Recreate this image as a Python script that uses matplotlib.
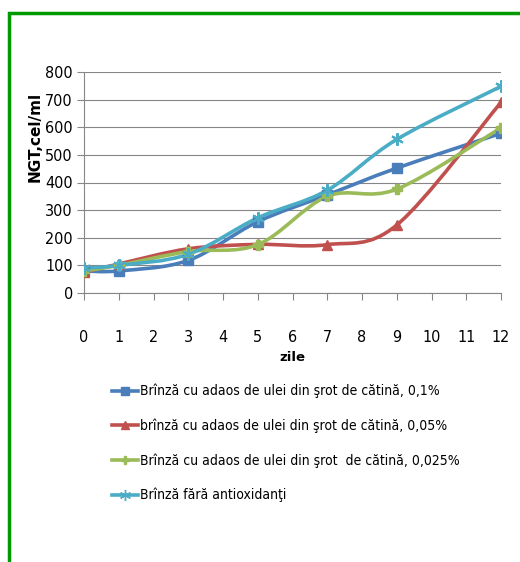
import matplotlib
matplotlib.use("Agg")
import matplotlib.pyplot as plt
from matplotlib.path import Path
from matplotlib.patches import PathPatch, Rectangle
from matplotlib.lines import Line2D
from matplotlib.font_manager import FontProperties
import numpy as np

# ---- data ----
days = [0, 1, 3, 5, 7, 9, 12]
blue_vals = [80, 80, 118, 258, 355, 452, 578]
red_vals = [75, 105, 160, 176, 175, 246, 690]
green_vals = [80, 100, 150, 175, 350, 376, 598]
cyan_vals = [90, 100, 140, 272, 372, 556, 748]
series_labels = [
    "Brînză cu adaos de ulei din şrot de cătină, 0,1%",
    "brînză cu adaos de ulei din şrot de cătină, 0,05%",
    "Brînză cu adaos de ulei din şrot  de cătină, 0,025%",
    "Brînză fără antioxidanţi",
]
x_ticks = list(range(0, 13))
y_ticks = list(range(0, 801, 100))

colors = ["#4a7ebb", "#c0504d", "#9bbb59", "#4bacc6"]
markers = ["s", "^", "P", (6, 2, 0)]
msizes = [7, 7, 7, 9]

tick_fp = FontProperties(family="DejaVu Sans", stretch="condensed", size=11.5)
leg_fp = FontProperties(family="DejaVu Sans", stretch="condensed", size=10)

fig = plt.figure(figsize=(5.2, 5.62), dpi=100)
W, H = 520, 562
ax = fig.add_axes([84 / W, 1 - 293 / H, (501 - 84) / W, (293 - 72) / H])


def smooth_path(xs, ys):
    pts = np.column_stack([xs, ys]).astype(float)
    n = len(pts)
    verts = [pts[0]]
    codes = [Path.MOVETO]
    for i in range(n - 1):
        p0 = pts[i - 1] if i > 0 else pts[i]
        p1 = pts[i]
        p2 = pts[i + 1]
        p3 = pts[i + 2] if i + 2 < n else pts[i + 1]
        c1 = p1 + (p2 - p0) / 6.0
        c2 = p2 - (p3 - p1) / 6.0
        verts += [c1, c2, p2]
        codes += [Path.CURVE4] * 3
    return Path(verts, codes)


all_vals = [blue_vals, red_vals, green_vals, cyan_vals]
handles = []
for vals, c, m, ms in zip(all_vals, colors, markers, msizes):
    patch = PathPatch(smooth_path(days, vals), facecolor="none", edgecolor=c,
                      lw=2.6, zorder=3, capstyle="round", joinstyle="round")
    ax.add_patch(patch)
    ax.plot(days, vals, linestyle="none", marker=m, color=c, markersize=ms,
            markeredgewidth=1.5 if m == (6, 2, 0) else 1.0, zorder=4)
    handles.append(Line2D([], [], color=c, lw=2.6, marker=m, markersize=ms - 1))

ax.set_xlim(0, 12)
ax.set_ylim(0, 800)
ax.set_xticks(x_ticks)
ax.set_yticks(y_ticks)
ax.set_xticklabels([str(t) for t in x_ticks], fontproperties=tick_fp)
ax.set_yticklabels([str(t) for t in y_ticks], fontproperties=tick_fp)
ax.tick_params(axis="x", length=5, width=0.8, color="#868686", pad=22)
ax.tick_params(axis="y", length=5, width=0.8, color="#868686", pad=3)
ax.grid(axis="y", color="#868686", lw=0.8)
ax.set_axisbelow(True)
for s in ["top", "right"]:
    ax.spines[s].set_visible(False)
for s in ["left", "bottom"]:
    ax.spines[s].set_color("#868686")
    ax.spines[s].set_linewidth(0.8)

ax.set_xlabel("zile", fontfamily="DejaVu Sans", fontweight="bold", fontsize=9.5, labelpad=4)
fig.text(35 / W, 1 - 137 / H, "NGT,cel/ml", rotation=90, ha="center", va="center",
         fontfamily="DejaVu Sans", fontweight="bold", fontsize=11)

leg = fig.legend(handles, series_labels, loc="upper left",
                 bbox_to_anchor=(112 / W, 1 - 384 / H), frameon=False,
                 prop=leg_fp, handlelength=1.9,
                 handletextpad=0.15, labelspacing=1.45, borderpad=0, borderaxespad=0)

# green frame (left and top visible)
fig.patches.append(Rectangle((9 / W, -0.05), 1.2, 1 - 13 / H + 0.05,
                             transform=fig.transFigure, fill=False,
                             edgecolor="#009a00", lw=2.5))

fig.savefig("out.png", dpi=100)
